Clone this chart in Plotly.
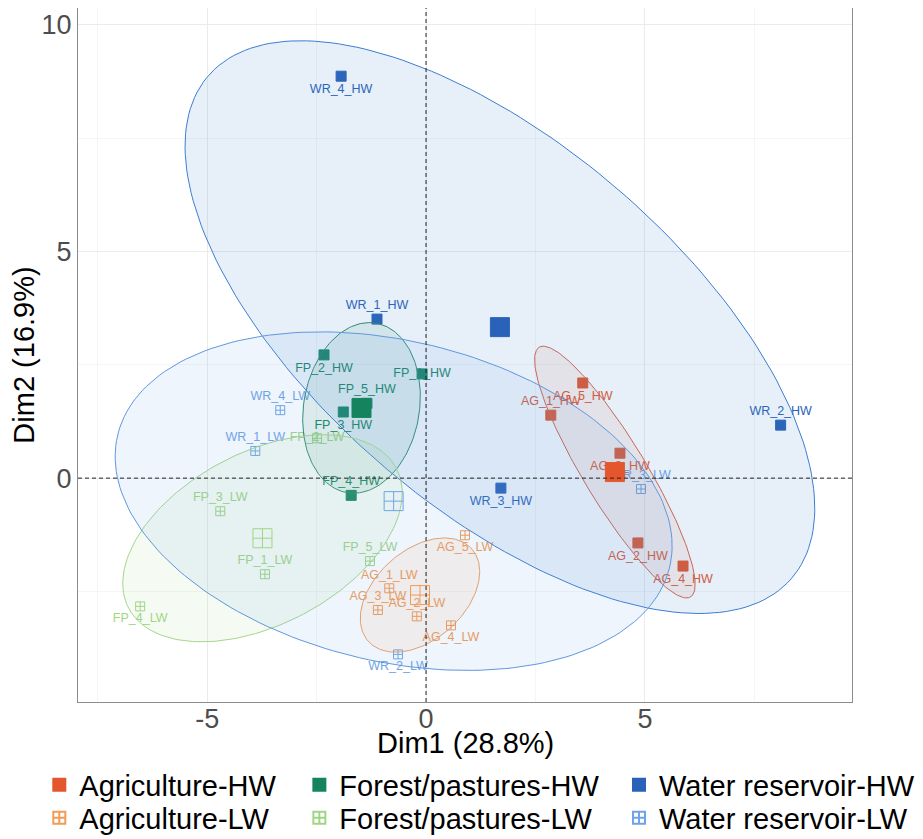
import numpy as np
import plotly.graph_objects as go

# ---------------- data ----------------
ag_hw_labels = ["AG_1_HW", "AG_2_HW", "AG_3_HW", "AG_4_HW", "AG_5_HW"]
ag_hw_x = [2.85, 4.84, 4.43, 5.87, 3.58]
ag_hw_y = [1.39, -1.43, 0.55, -1.94, 2.10]

fp_hw_labels = ["FP_1_HW", "FP_2_HW", "FP_3_HW", "FP_4_HW", "FP_5_HW"]
fp_hw_x = [-0.09, -2.33, -1.89, -1.71, -1.35]
fp_hw_y = [2.30, 2.72, 1.46, -0.38, 1.65]

wr_hw_labels = ["WR_1_HW", "WR_2_HW", "WR_3_HW", "WR_4_HW"]
wr_hw_x = [-1.12, 8.10, 1.71, -1.94]
wr_hw_y = [3.51, 1.17, -0.22, 8.87]

ag_lw_labels = ["AG_1_LW", "AG_2_LW", "AG_3_LW", "AG_4_LW", "AG_5_LW"]
ag_lw_x = [-0.84, -0.21, -1.10, 0.57, 0.89]
ag_lw_y = [-2.43, -3.05, -2.91, -3.25, -1.26]

fp_lw_labels = ["FP_1_LW", "FP_2_LW", "FP_3_LW", "FP_4_LW", "FP_5_LW"]
fp_lw_x = [-3.68, -2.49, -4.70, -6.53, -1.28]
fp_lw_y = [-2.12, 0.88, -0.73, -2.83, -1.83]

wr_lw_labels = ["WR_1_LW", "WR_2_LW", "WR_3_LW", "WR_4_LW"]
wr_lw_x = [-3.90, -0.64, 4.91, -3.33]
wr_lw_y = [0.60, -3.89, -0.24, 1.50]

group_names = ["Agriculture-HW", "Forest/pastures-HW", "Water reservoir-HW",
               "Agriculture-LW", "Forest/pastures-LW", "Water reservoir-LW"]

x_title = "Dim1 (28.8%)"
y_title = "Dim2 (16.9%)"

# ---------------- styles ----------------
ag_hw_pos = ["top center", "bottom center", "bottom center", "bottom center", "bottom center"]
fp_hw_pos = ["middle center", "bottom center", "bottom center", "top center", "top center"]
wr_hw_pos = ["top center", "top center", "bottom center", "bottom center"]
ag_lw_pos = ["top center", "top center", "top center", "bottom center", "bottom center"]
fp_lw_pos = ["top center", "middle center", "top center", "bottom center", "top center"]
wr_lw_pos = ["top center", "bottom center", "top center", "top center"]

FONT = "Arial, Liberation Sans, sans-serif"

ROW1, ROW2 = -0.1196, -0.167
COL1, COL2, COL3 = -0.050, 0.286, 0.699
groups = [
    dict(name=group_names[0], x=ag_hw_x, y=ag_hw_y, t=ag_hw_labels, pos=ag_hw_pos,
         color="#E4572E", edge="#D8644A", fill="rgba(215,95,70,0.10)",
         sym="square", leg="legend", lx=COL1, ly=ROW1),
    dict(name=group_names[1], x=fp_hw_x, y=fp_hw_y, t=fp_hw_labels, pos=fp_hw_pos,
         color="#15845E", edge="#2E8B6A", fill="rgba(30,140,100,0.10)",
         sym="square", leg="legend2", lx=COL2, ly=ROW1),
    dict(name=group_names[2], x=wr_hw_x, y=wr_hw_y, t=wr_hw_labels, pos=wr_hw_pos,
         color="#2B62B9", edge="#3D7DD2", fill="rgba(55,128,208,0.12)",
         sym="square", leg="legend3", lx=COL3, ly=ROW1),
    dict(name=group_names[3], x=ag_lw_x, y=ag_lw_y, t=ag_lw_labels, pos=ag_lw_pos,
         color="#F39C55", edge="#F0A060", fill="rgba(243,156,85,0.10)",
         sym="square-cross-open", leg="legend4", lx=COL1, ly=ROW2),
    dict(name=group_names[4], x=fp_lw_x, y=fp_lw_y, t=fp_lw_labels, pos=fp_lw_pos,
         color="#9FD686", edge="#A5D78C", fill="rgba(159,214,134,0.10)",
         sym="square-cross-open", leg="legend5", lx=COL2, ly=ROW2),
    dict(name=group_names[5], x=wr_lw_x, y=wr_lw_y, t=wr_lw_labels, pos=wr_lw_pos,
         color="#6FA5E8", edge="#5F98DE", fill="rgba(111,165,232,0.11)",
         sym="square-cross-open", leg="legend6", lx=COL3, ly=ROW2),
]

ELLIPSE_SCALE = 1.58


def ellipse(xs, ys, scale, n=200):
    pts = np.column_stack([xs, ys]).astype(float)
    mu = pts.mean(axis=0)
    cov = np.cov(pts, rowvar=False)
    vals, vecs = np.linalg.eigh(cov)
    th = np.linspace(0, 2 * np.pi, n)
    circ = np.vstack([np.cos(th), np.sin(th)])
    e = vecs @ (np.sqrt(vals)[:, None] * circ) * scale
    return mu[0] + e[0], mu[1] + e[1]


fig = go.Figure()

# individual points with labels (drawn first, ellipses overlay them)
for g in groups:
    fig.add_trace(go.Scatter(
        x=g["x"], y=g["y"], text=g["t"], mode="markers+text",
        textposition=g["pos"],
        textfont=dict(size=12.5, color=g["color"], family=FONT),
        marker=dict(symbol=g["sym"], size=10 if g["sym"] == "square" else 9,
                    color=g["color"], line=dict(width=1, color=g["color"])),
        showlegend=False, hoverinfo="text", cliponaxis=False,
    ))

# ellipses
for g in groups:
    ex, ey = ellipse(g["x"], g["y"], ELLIPSE_SCALE)
    fig.add_trace(go.Scatter(
        x=ex, y=ey, mode="lines", fill="toself", fillcolor=g["fill"],
        line=dict(color=g["edge"], width=1),
        showlegend=False, hoverinfo="skip",
    ))

# group centroids (mean of each group), also used for the legend
legends = {}
for g in groups:
    fig.add_trace(go.Scatter(
        x=[float(np.mean(g["x"]))], y=[float(np.mean(g["y"]))], mode="markers",
        name=g["name"], legend=g["leg"],
        marker=dict(symbol=g["sym"], size=19, color=g["color"],
                    line=dict(width=1, color=g["color"])),
        hoverinfo="name",
    ))
    legends[g["leg"]] = dict(
        orientation="h", x=g["lx"], xanchor="left", y=g["ly"], yanchor="middle",
        itemsizing="constant", bgcolor="rgba(0,0,0,0)",
        font=dict(size=29, color="black", family=FONT),
    )

fig.add_vline(x=0, line=dict(color="#222222", width=1, dash="4px,3px"))
fig.add_hline(y=0, line=dict(color="#222222", width=1, dash="4px,3px"))

axis_common = dict(
    showgrid=True, gridcolor="#EBEBEB", gridwidth=1,
    zeroline=False, showline=True, linecolor="#8C8C8C", linewidth=1, mirror=True,
    ticks="", tickfont=dict(size=27, color="#4D4D4D", family=FONT),
    title_font=dict(size=29, color="black", family=FONT),
    minor=dict(showgrid=True, gridcolor="#F5F5F5", dtick=2.5),
)

fig.update_layout(
    width=915, height=831,
    margin=dict(l=70, r=71, t=0, b=137, autoexpand=False),
    plot_bgcolor="white", paper_bgcolor="white",
    xaxis=dict(range=[-7.95, 9.73], tickvals=[-5, 0, 5], ticktext=["-5", "0", "5"],
               ticklabelstandoff=-7, **axis_common),
    yaxis=dict(range=[-4.94, 10.375], tickvals=[0, 5, 10], ticktext=["0", "5", "10"],
               title=dict(text=y_title, standoff=12), **axis_common),
    annotations=[dict(text=x_title, xref="paper", yref="paper", x=0.5, y=-0.059,
                      xanchor="center", yanchor="middle", showarrow=False,
                      font=dict(size=29, color="black", family=FONT))],
    showlegend=True,
    **legends,
)

fig.write_html("out.html")
